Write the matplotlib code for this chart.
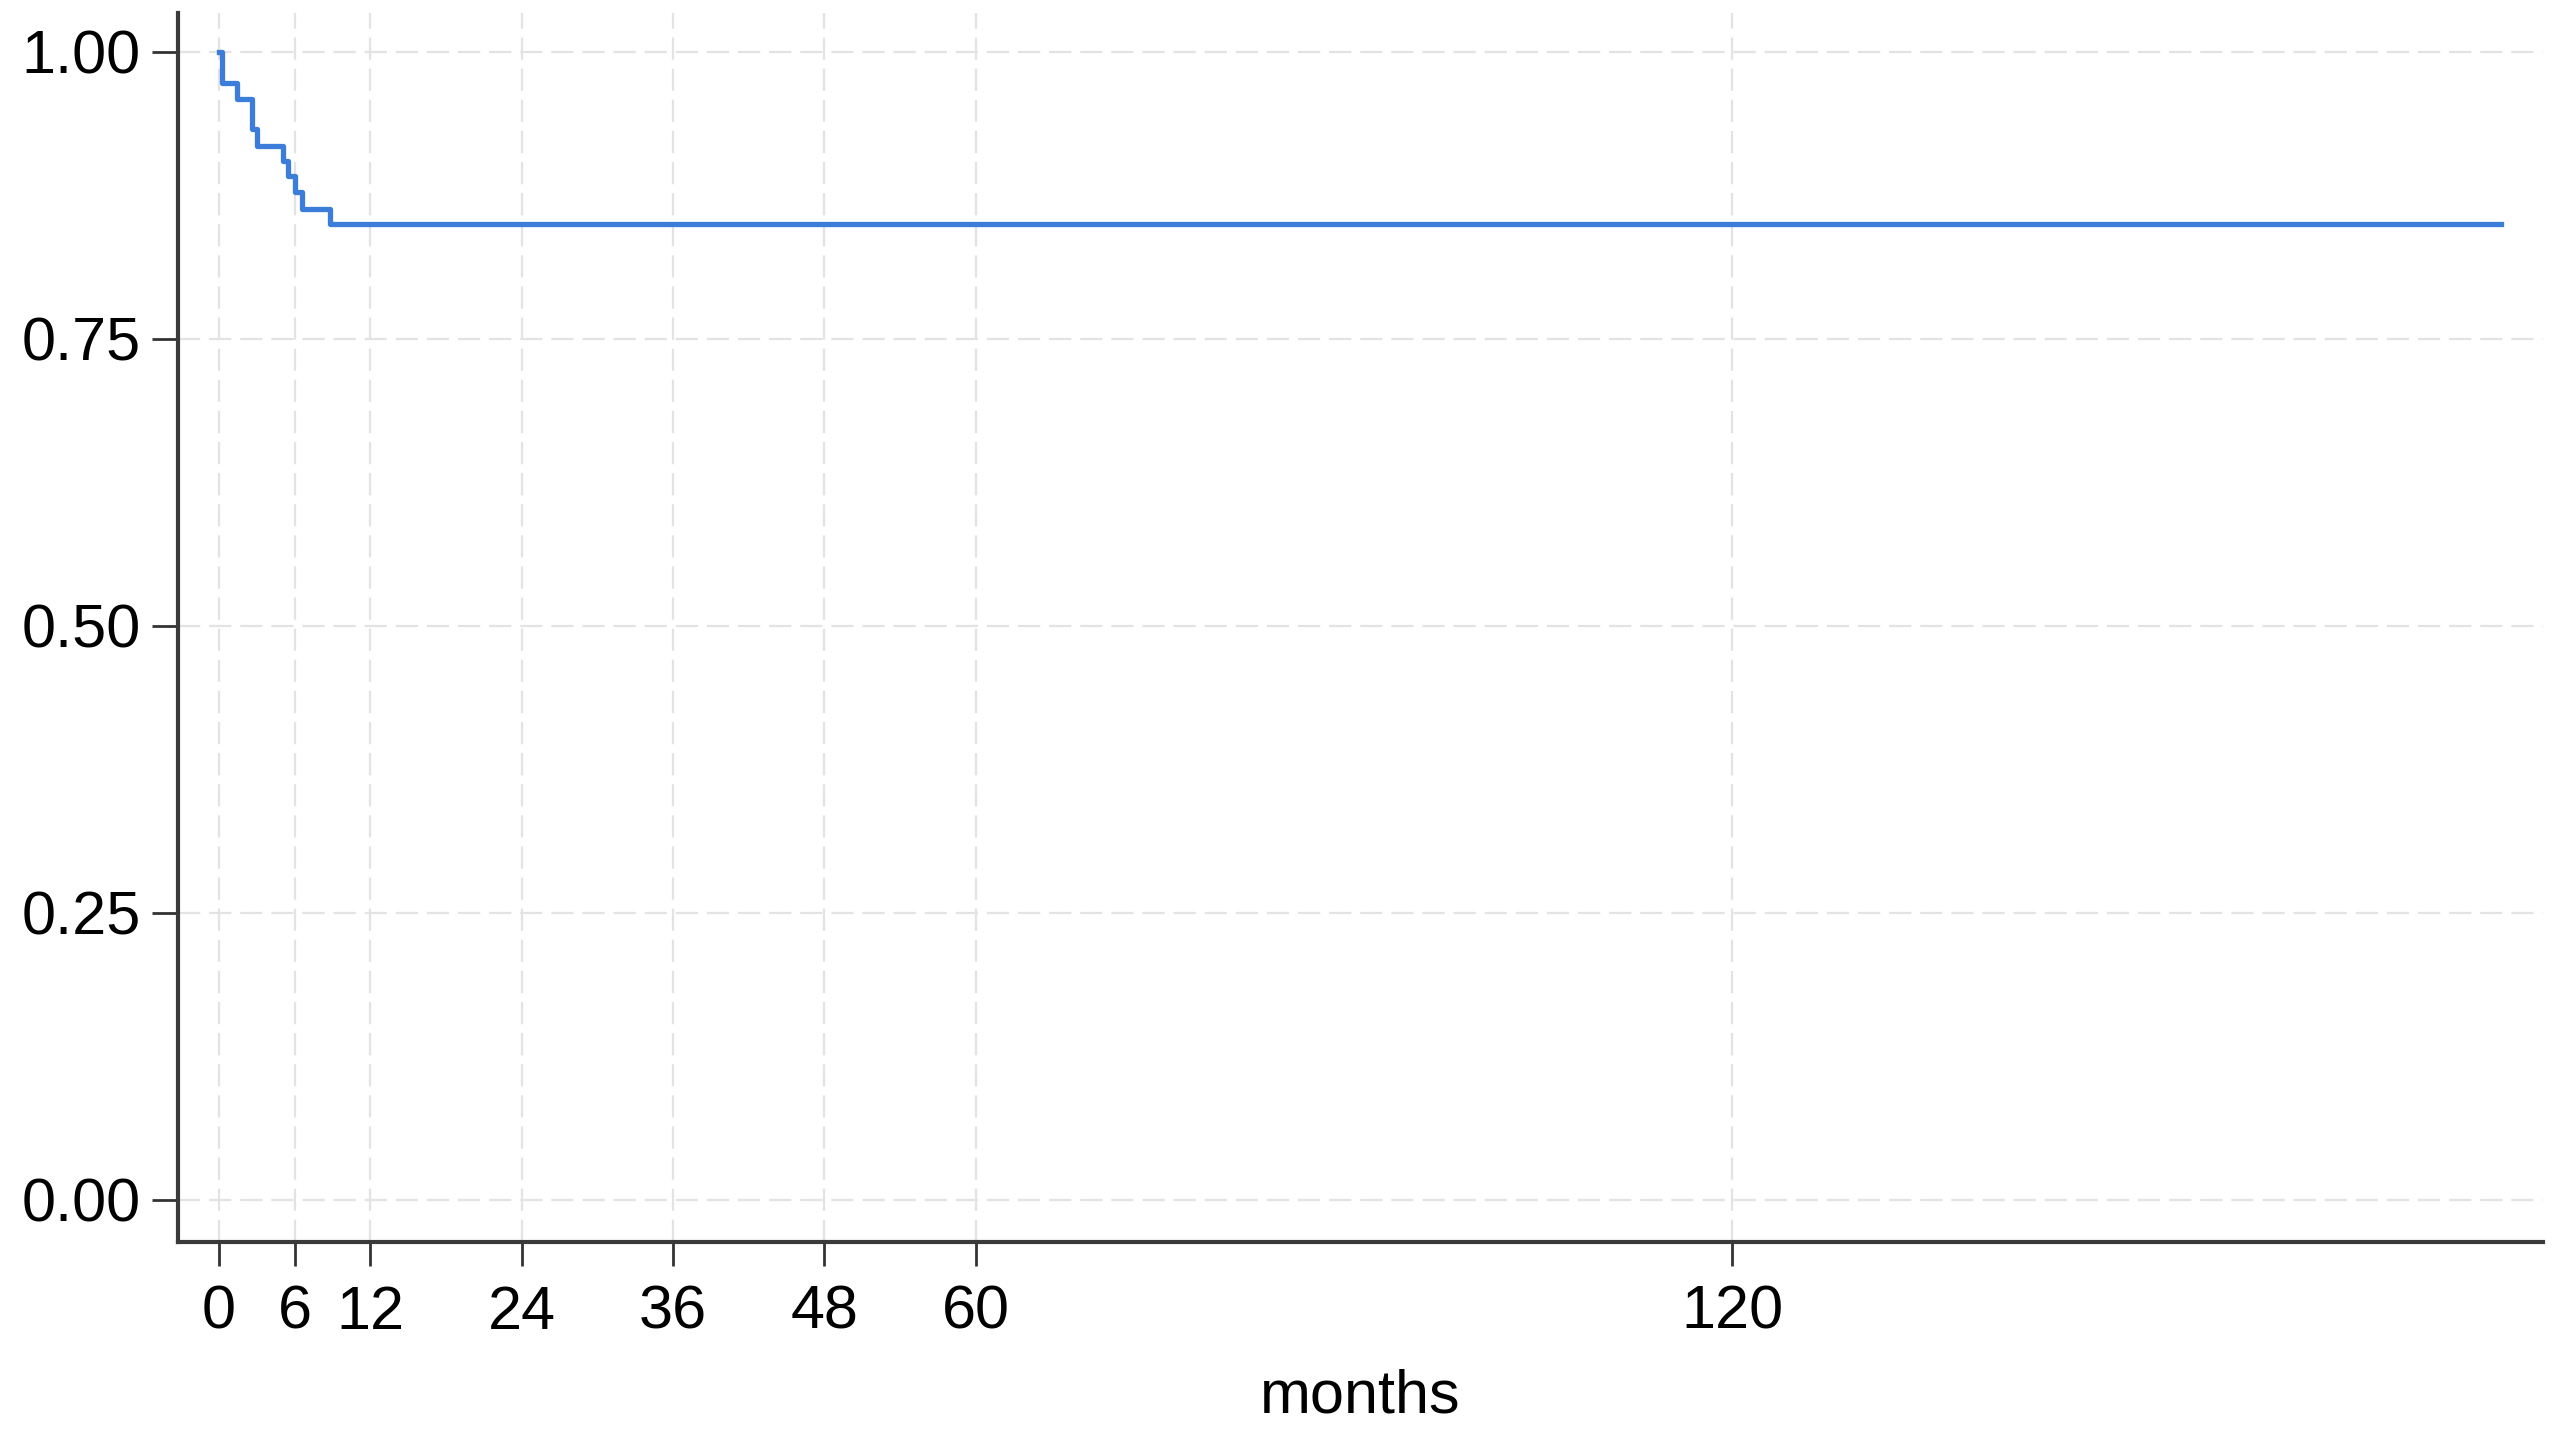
import numpy as np
import matplotlib
matplotlib.use("Agg")
import matplotlib.pyplot as plt

plt.rcParams['font.family'] = ['Liberation Sans', 'DejaVu Sans']

# Kaplan-Meier curve (months, survival)
months = [0, 0.2, 1.4, 2.6, 3.0, 5.05, 5.5, 6.0, 6.55, 8.8, 181]
surv = [1.0, 0.973, 0.959, 0.933, 0.918, 0.905, 0.892, 0.878, 0.863, 0.850, 0.850]

x_ticks = [0, 6, 12, 24, 36, 48, 60, 120]
y_ticks = [0.0, 0.25, 0.5, 0.75, 1.0]
y_labels = ["0.00", "0.25", "0.50", "0.75", "1.00"]

fig = plt.figure(figsize=(25.62, 14.34), dpi=100)
ax = fig.add_axes([0.0695, 0.134, 0.923, 0.857])

# 曲線
ax.plot(months, surv, drawstyle='steps-post', color='#3b7dd8', lw=3.8)

ax.set_xlim(-3.25, 184.3)
ax.set_ylim(-0.0366, 1.034)
ax.set_xticks(x_ticks)
ax.set_yticks(y_ticks)
ax.set_yticklabels(y_labels)

ax.grid(True, color='#e3e3e3', lw=1.6, linestyle=(0, (10, 4)))
ax.set_axisbelow(True)

for side in ['top', 'right']:
    ax.spines[side].set_visible(False)
for side in ['left', 'bottom']:
    ax.spines[side].set_linewidth(3.0)
    ax.spines[side].set_color('#3a3a3a')

ax.tick_params(axis='y', length=19, width=2, color='#333333', labelsize=44, pad=8)
ax.tick_params(axis='x', length=17, width=2, color='#333333', labelsize=44, pad=14)

ax.set_xlabel('months', fontsize=44, labelpad=19)

fig.savefig('out.png', dpi=100)
